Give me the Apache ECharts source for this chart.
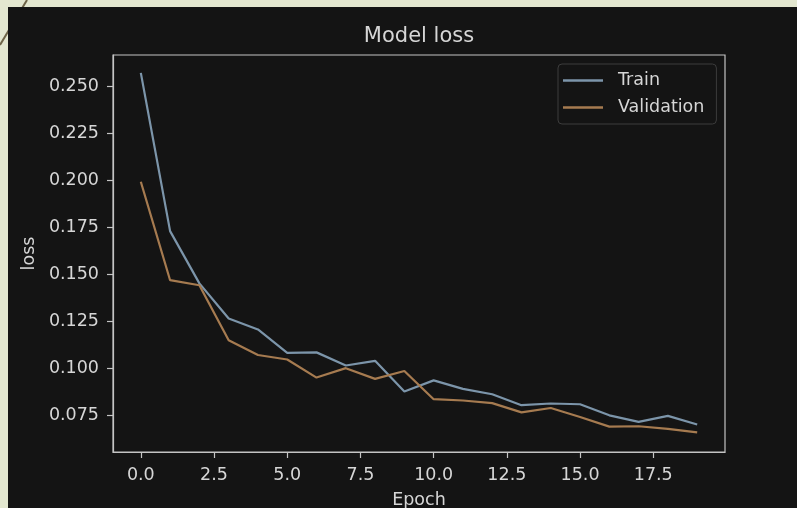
<!DOCTYPE html>
<html>
<head>
<meta charset="utf-8">
<script src="https://cdn.jsdelivr.net/npm/echarts@6/dist/echarts.min.js"></script>
<style>html,body{margin:0;padding:0;background:#e3e7d0;}#c{width:797px;height:508px;}</style>
</head>
<body>
<div id="c"></div>
<script>
const epochs = [0,1,2,3,4,5,6,7,8,9,10,11,12,13,14,15,16,17,18,19];
const trainLoss = [0.2571,0.1729,0.1451,0.1264,0.1206,0.1081,0.1084,0.1014,0.1039,0.0876,0.0935,0.0890,0.0861,0.0803,0.0812,0.0808,0.0749,0.0714,0.0746,0.0700];
const valLoss = [0.1992,0.1468,0.1441,0.1149,0.1070,0.1046,0.0950,0.1000,0.0943,0.0985,0.0835,0.0828,0.0814,0.0765,0.0788,0.0740,0.0689,0.0691,0.0677,0.0658];
const xTicks = [0,2.5,5,7.5,10,12.5,15,17.5];
const yTicks = [0.075,0.100,0.125,0.150,0.175,0.200,0.225,0.250];

const txt = '#d6d6d6';
const axisCol = '#c4c4c4';
const font = 'DejaVu Sans';
const chart = echarts.init(document.getElementById('c'));
chart.setOption({
  backgroundColor: '#e3e7d0',
  animation: false,
  textStyle: {fontFamily: font},
  graphic: [
    {type: 'line', z: -10, shape: {x1: 0, y1: 45, x2: 27, y2: 0}, style: {stroke: '#6e6448', lineWidth: 2}},
    {type: 'rect', z: -5, shape: {x: 8, y: 7, width: 800, height: 510}, style: {fill: '#141414'}},
    {type: 'text', x: 419, y: 37, z: 10, style: {text: 'Model loss', fill: txt, font: '21px "DejaVu Sans"', textAlign: 'center', textVerticalAlign: 'middle'}}
  ],
  grid: {left: 113, right: 72, top: 55, bottom: 56, containLabel: false, outerBoundsMode: 'none', show: true, borderColor: axisCol, borderWidth: 1.2, backgroundColor: 'transparent'},
  legend: {
    orient: 'vertical', left: 558, top: 64,
    data: ['Train', 'Validation'],
    icon: 'rect', itemWidth: 40, itemHeight: 2.5, itemGap: 7,
    padding: [6.5, 12, 6.5, 5],
    backgroundColor: '#141414', borderColor: '#3c3c3c', borderWidth: 1, borderRadius: 4,
    textStyle: {color: txt, fontSize: 17.5, fontFamily: font, padding: [0, 0, 0, 10], lineHeight: 20}
  },
  xAxis: {
    type: 'value', min: -0.95, max: 19.95,
    name: 'Epoch', nameLocation: 'middle', nameGap: 39,
    nameTextStyle: {color: txt, fontSize: 17.5, fontFamily: font},
    axisLine: {show: true, onZero: false, lineStyle: {color: axisCol, width: 1.2}},
    axisTick: {show: true, length: 6, customValues: xTicks, lineStyle: {color: axisCol, width: 1.2}},
    axisLabel: {show: true, customValues: xTicks, color: txt, fontSize: 17.5, fontFamily: font, margin: 14, formatter: v => v.toFixed(1)},
    splitLine: {show: false}
  },
  yAxis: {
    type: 'value', min: 0.0554, max: 0.2666,
    name: 'loss', nameLocation: 'middle', nameGap: 75, nameRotate: 90,
    nameTextStyle: {color: txt, fontSize: 17.5, fontFamily: font},
    axisLine: {show: true, onZero: false, lineStyle: {color: axisCol, width: 1.2}},
    axisTick: {show: true, length: 6, customValues: yTicks, lineStyle: {color: axisCol, width: 1.2}},
    axisLabel: {show: true, customValues: yTicks, color: txt, fontSize: 17.5, fontFamily: font, margin: 14, formatter: v => v.toFixed(3)},
    splitLine: {show: false}
  },
  series: [
    {name: 'Train', type: 'line', showSymbol: false, data: epochs.map((e, i) => [e, trainLoss[i]]),
     lineStyle: {color: '#7c95aa', width: 2.2}, itemStyle: {color: '#7c95aa'}},
    {name: 'Validation', type: 'line', showSymbol: false, data: epochs.map((e, i) => [e, valLoss[i]]),
     lineStyle: {color: '#a67b50', width: 2.2}, itemStyle: {color: '#a67b50'}}
  ]
});
</script>
</body>
</html>
